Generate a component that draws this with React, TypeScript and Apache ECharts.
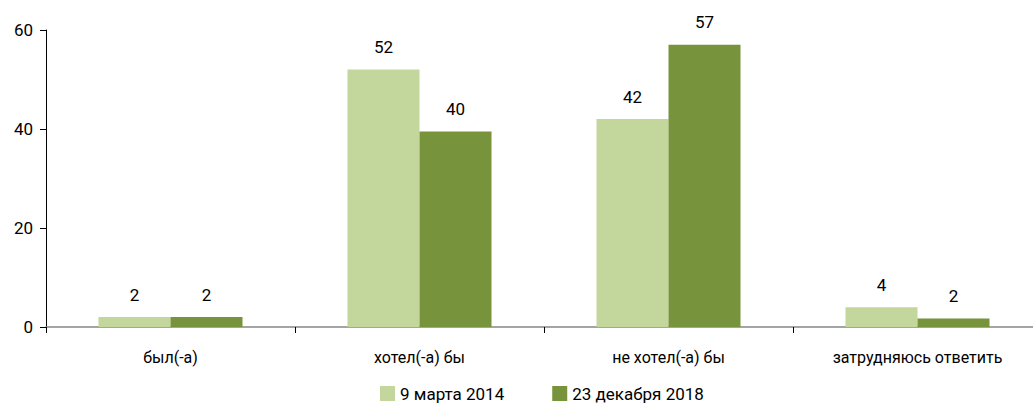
import React, { useEffect, useRef } from "react";
import * as echarts from "echarts";

const categories = ["был(-а)", "хотел(-а) бы", "не хотел(-а) бы", "затрудняюсь ответить"];
const seriesNames = ["9 марта 2014", "23 декабря 2018"];
const values2014 = [2, 52, 42, 4];
const values2018 = [2, 39.5, 57, 1.7];
const yTicks = { min: 0, max: 60, interval: 20 };

const FONT = "Roboto, 'Noto Sans', sans-serif";

export default function App() {
  const ref = useRef<HTMLDivElement>(null);
  useEffect(() => {
    if (!ref.current) return;
    const chart = echarts.init(ref.current, null, { renderer: "svg" });
    const label = {
      show: true,
      position: "top",
      distance: 14,
      color: "#000",
      fontSize: 17,
      fontFamily: FONT,
      formatter: (p: any) => String(Math.round(p.value)),
    };
    chart.setOption({
      animation: false,
      backgroundColor: "#fff",
      textStyle: { fontFamily: FONT },
      grid: { left: 46, top: 30, right: 0, height: 297 },
      legend: {
        bottom: 9,
        left: 375,
        itemWidth: 15,
        itemHeight: 15,
        itemGap: 48,
        icon: "rect",
        textStyle: { fontSize: 17, color: "#000", fontFamily: FONT },
        data: seriesNames,
      },
      xAxis: {
        type: "category",
        data: categories,
        axisLine: { lineStyle: { color: "#868686", width: 1.5 } },
        axisTick: { show: true, length: 6, lineStyle: { color: "#000" } },
        axisLabel: { color: "#000", fontSize: 16, margin: 22, fontFamily: FONT },
      },
      yAxis: {
        type: "value",
        min: yTicks.min,
        max: yTicks.max,
        interval: yTicks.interval,
        splitLine: { show: false },
        axisLine: { show: true, lineStyle: { color: "#000" } },
        axisTick: { show: true, length: 6, lineStyle: { color: "#000" } },
        axisLabel: { color: "#000", fontSize: 17, margin: 13, fontFamily: FONT },
      },
      series: [
        {
          name: seriesNames[0],
          type: "bar",
          data: values2014,
          barWidth: 72,
          barGap: "0%",
          itemStyle: { color: "#c3d69b" },
          label,
        },
        {
          name: seriesNames[1],
          type: "bar",
          data: values2018,
          barWidth: 72,
          barGap: "0%",
          itemStyle: { color: "#77933c" },
          label,
        },
      ],
    });
    return () => chart.dispose();
  }, []);
  return (
    <div
      ref={ref}
      style={{ position: "fixed", left: 0, top: 0, width: 1042, height: 416, background: "#fff" }}
    />
  );
}
